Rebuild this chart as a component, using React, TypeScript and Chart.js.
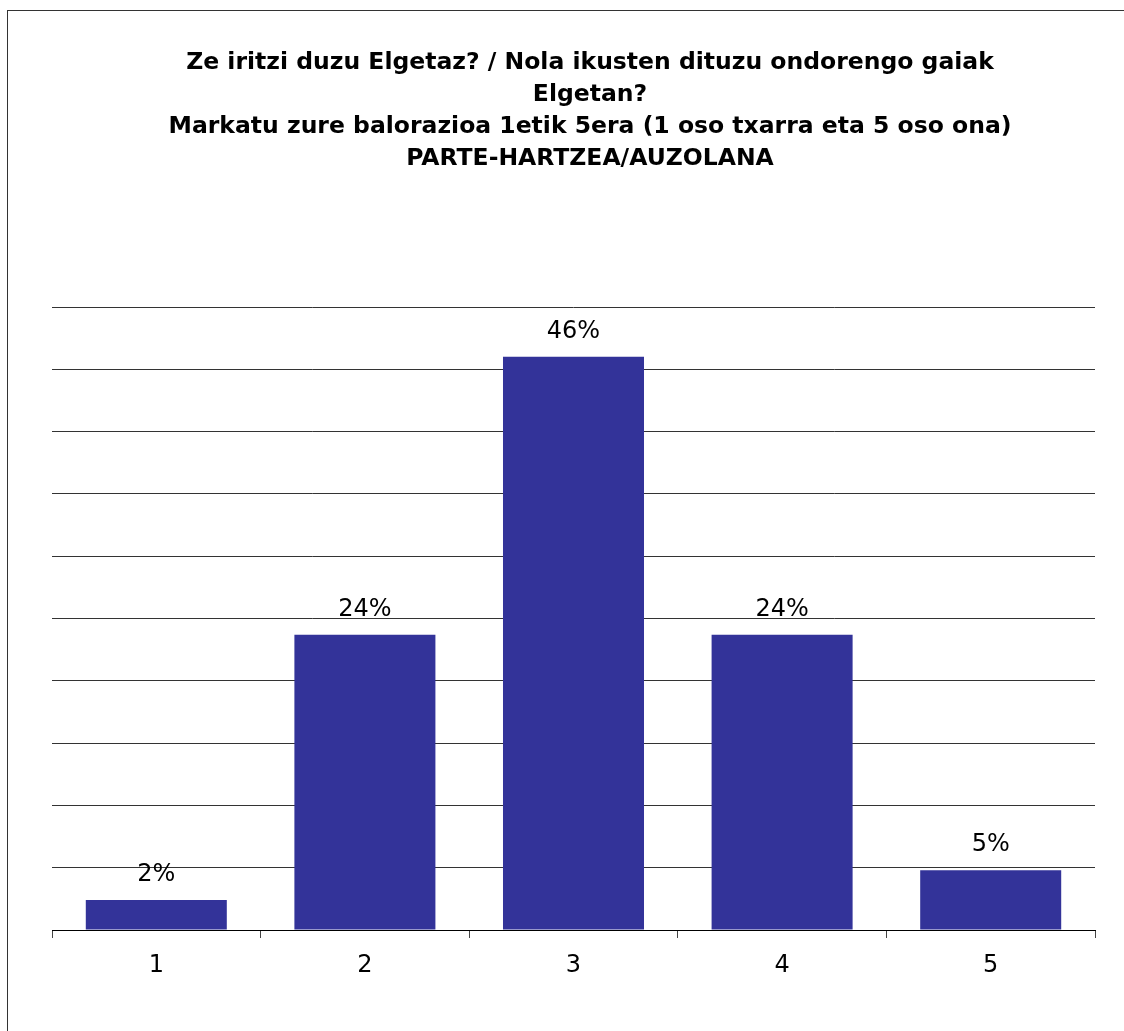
import React, { useEffect, useRef } from "react";
import { Chart, registerables } from "chart.js";

Chart.register(...registerables);

const titleLines = [
  "Ze iritzi duzu Elgetaz? / Nola ikusten dituzu ondorengo gaiak",
  "Elgetan?",
  "Markatu zure balorazioa 1etik 5era (1 oso txarra eta 5 oso ona)",
  "PARTE-HARTZEA/AUZOLANA",
];
const categories = ["1", "2", "3", "4", "5"];
const values = [2.4, 23.7, 46, 23.7, 4.8];
const yMax = 50;
const yStep = 5;

const FONT = "Tahoma, 'DejaVu Sans', sans-serif";

const titleDraw = {
  id: "titleDraw",
  afterDraw(chart: any) {
    const ctx = chart.ctx;
    ctx.save();
    ctx.font = `bold 23.5px 'DejaVu Sans', sans-serif`;
    ctx.fillStyle = "#000";
    ctx.textAlign = "center";
    ctx.textBaseline = "middle";
    titleLines.forEach((line, i) => {
      ctx.fillText(line, 590, 63 + i * 32);
    });
    ctx.restore();
  },
};

const valueLabels = {
  id: "valueLabels",
  afterDatasetsDraw(chart: any) {
    const ctx = chart.ctx;
    const meta = chart.getDatasetMeta(0);
    ctx.save();
    ctx.font = `24px ${FONT}`;
    ctx.fillStyle = "#000";
    ctx.textAlign = "center";
    ctx.textBaseline = "middle";
    meta.data.forEach((bar: any, i: number) => {
      ctx.fillText(Math.round(values[i]) + "%", bar.x, bar.y - 25);
    });
    ctx.restore();
  },
};

export default function App() {
  const ref = useRef<HTMLCanvasElement>(null);
  useEffect(() => {
    if (!ref.current) return;
    const chart = new Chart(ref.current, {
      type: "bar",
      data: {
        labels: categories,
        datasets: [
          {
            data: values,
            backgroundColor: "#333399",
            borderWidth: 0,
            barPercentage: 0.676,
            categoryPercentage: 1,
          },
        ],
      },
      options: {
        animation: false,
        responsive: false,
        layout: { padding: { left: 52, right: 29, top: 307, bottom: 37 } },
        plugins: {
          legend: { display: false },
          tooltip: { enabled: false },
          title: { display: false },
        },
        scales: {
          x: {
            grid: { drawOnChartArea: false, drawTicks: true, tickLength: 8, color: "#444" },
            border: { display: true, color: "#000", width: 1 },
            ticks: { color: "#000", font: { family: FONT, size: 24, lineHeight: 1.25 }, padding: 13 },
          },
          y: {
            min: 0,
            max: yMax,
            ticks: { display: false, stepSize: yStep },
            grid: { drawTicks: false, color: "#333", lineWidth: 1 },
            border: { display: false },
          },
        },
      },
      plugins: [valueLabels, titleDraw],
    });
    return () => chart.destroy();
  }, []);
  return (
    <div style={{ position: "absolute", left: 0, top: 0, width: 1124, height: 1031, overflow: "hidden" }}>
      <div
        style={{
          position: "absolute",
          left: 7,
          top: 10,
          width: 1200,
          height: 1100,
          borderLeft: "1px solid #333",
          borderTop: "1px solid #333",
        }}
      />
      <canvas ref={ref} width={1124} height={1031} style={{ position: "absolute", left: 0, top: 0 }} />
    </div>
  );
}
